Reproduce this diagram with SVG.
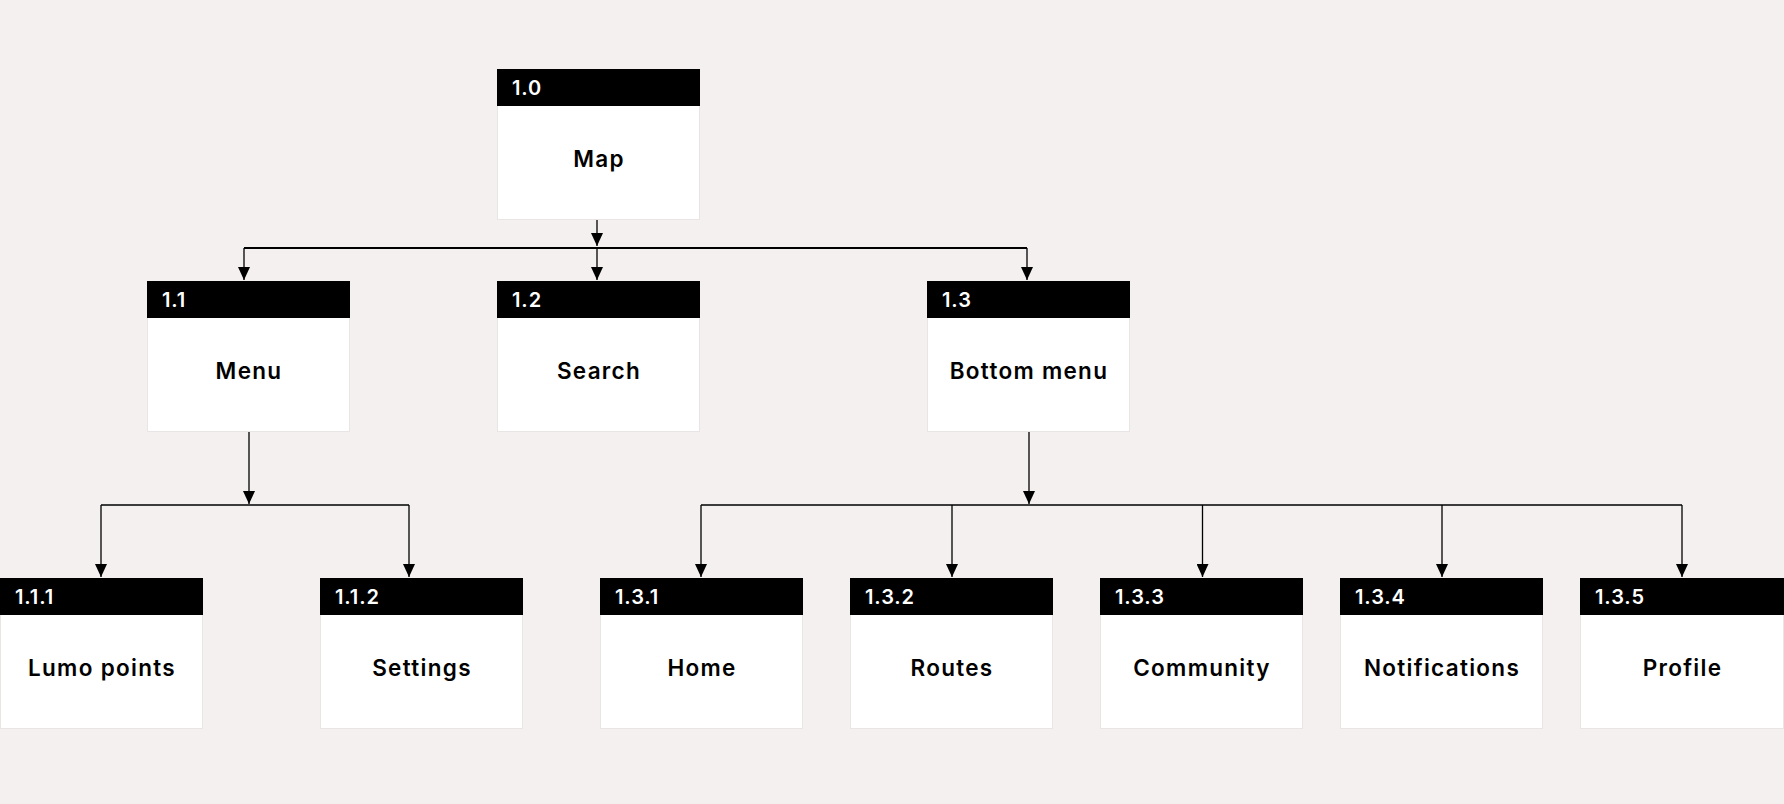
<svg xmlns="http://www.w3.org/2000/svg" width="1784" height="804" viewBox="0 0 1784 804">
<defs>
<style>
.bg{fill:#f3f0ef}
.body{fill:#ffffff;stroke:#e8e5e4;stroke-width:1}
.head{fill:#000000}
.num{font-family:Inter,"Liberation Sans",sans-serif;font-weight:600;font-size:20px;letter-spacing:0.9px;fill:#ffffff}
.lbl{font-family:Inter,"Liberation Sans",sans-serif;font-weight:600;font-size:22.5px;letter-spacing:1.3px;fill:#000000;text-anchor:middle}
.c1{fill:none;stroke:#000;stroke-width:2}
.c2{fill:none;stroke:#000;stroke-width:1.3}
</style>
<marker id="ah" viewBox="0 0 13 12" refX="13" refY="6" markerWidth="13" markerHeight="12" markerUnits="userSpaceOnUse" orient="auto">
<path d="M0,0 L13,6 L0,12 z" fill="#000"/>
</marker>
</defs>
<rect class="bg" x="0" y="0" width="1784" height="804"/>

<g id="connectors">
<line class="c2" x1="597" y1="220" x2="597" y2="246" marker-end="url(#ah)"/>
<line class="c1" x1="244" y1="248" x2="1027" y2="248"/>
<path class="c2" d="M244,248 V280" marker-end="url(#ah)"/>
<path class="c2" d="M597,248 V280" marker-end="url(#ah)"/>
<path class="c2" d="M1027,248 V280" marker-end="url(#ah)"/>

<line class="c2" x1="249" y1="432" x2="249" y2="504" marker-end="url(#ah)"/>
<line class="c2" x1="101" y1="505" x2="409" y2="505"/>
<path class="c2" d="M101,505 V577" marker-end="url(#ah)"/>
<path class="c2" d="M409,505 V577" marker-end="url(#ah)"/>

<line class="c2" x1="1029" y1="432" x2="1029" y2="504" marker-end="url(#ah)"/>
<line class="c2" x1="701" y1="505" x2="1682" y2="505"/>
<path class="c2" d="M701,505 V577" marker-end="url(#ah)"/>
<path class="c2" d="M952,505 V577" marker-end="url(#ah)"/>
<path class="c2" d="M1202.5,505 V577" marker-end="url(#ah)"/>
<path class="c2" d="M1442,505 V577" marker-end="url(#ah)"/>
<path class="c2" d="M1682,505 V577" marker-end="url(#ah)"/>
</g>

<g id="n1_0">
<rect class="body" x="497.5" y="69.5" width="202" height="150"/>
<rect class="head" x="497" y="69" width="203" height="37"/>
<text class="num" x="512" y="95">1.0</text>
<text class="lbl" x="599" y="167">Map</text>
</g>

<g id="n1_1">
<rect class="body" x="147.5" y="281.5" width="202" height="150"/>
<rect class="head" x="147" y="281" width="203" height="37"/>
<text class="num" x="162" y="307">1.1</text>
<text class="lbl" x="249" y="379">Menu</text>
</g>

<g id="n1_2">
<rect class="body" x="497.5" y="281.5" width="202" height="150"/>
<rect class="head" x="497" y="281" width="203" height="37"/>
<text class="num" x="512" y="307">1.2</text>
<text class="lbl" x="599" y="379">Search</text>
</g>

<g id="n1_3">
<rect class="body" x="927.5" y="281.5" width="202" height="150"/>
<rect class="head" x="927" y="281" width="203" height="37"/>
<text class="num" x="942" y="307">1.3</text>
<text class="lbl" x="1029" y="379">Bottom menu</text>
</g>

<g id="n1_1_1">
<rect class="body" x="0.5" y="578.5" width="202" height="150"/>
<rect class="head" x="0" y="578" width="203" height="37"/>
<text class="num" x="15" y="604">1.1.1</text>
<text class="lbl" x="102" y="676">Lumo points</text>
</g>

<g id="n1_1_2">
<rect class="body" x="320.5" y="578.5" width="202" height="150"/>
<rect class="head" x="320" y="578" width="203" height="37"/>
<text class="num" x="335" y="604">1.1.2</text>
<text class="lbl" x="422" y="676">Settings</text>
</g>

<g id="n1_3_1">
<rect class="body" x="600.5" y="578.5" width="202" height="150"/>
<rect class="head" x="600" y="578" width="203" height="37"/>
<text class="num" x="615" y="604">1.3.1</text>
<text class="lbl" x="702" y="676">Home</text>
</g>

<g id="n1_3_2">
<rect class="body" x="850.5" y="578.5" width="202" height="150"/>
<rect class="head" x="850" y="578" width="203" height="37"/>
<text class="num" x="865" y="604">1.3.2</text>
<text class="lbl" x="952" y="676">Routes</text>
</g>

<g id="n1_3_3">
<rect class="body" x="1100.5" y="578.5" width="202" height="150"/>
<rect class="head" x="1100" y="578" width="203" height="37"/>
<text class="num" x="1115" y="604">1.3.3</text>
<text class="lbl" x="1202" y="676">Community</text>
</g>

<g id="n1_3_4">
<rect class="body" x="1340.5" y="578.5" width="202" height="150"/>
<rect class="head" x="1340" y="578" width="203" height="37"/>
<text class="num" x="1355" y="604">1.3.4</text>
<text class="lbl" x="1442" y="676">Notifications</text>
</g>

<g id="n1_3_5">
<rect class="body" x="1580.5" y="578.5" width="203" height="150"/>
<rect class="head" x="1580" y="578" width="204" height="37"/>
<text class="num" x="1595" y="604">1.3.5</text>
<text class="lbl" x="1682.5" y="676">Profile</text>
</g>
</svg>
